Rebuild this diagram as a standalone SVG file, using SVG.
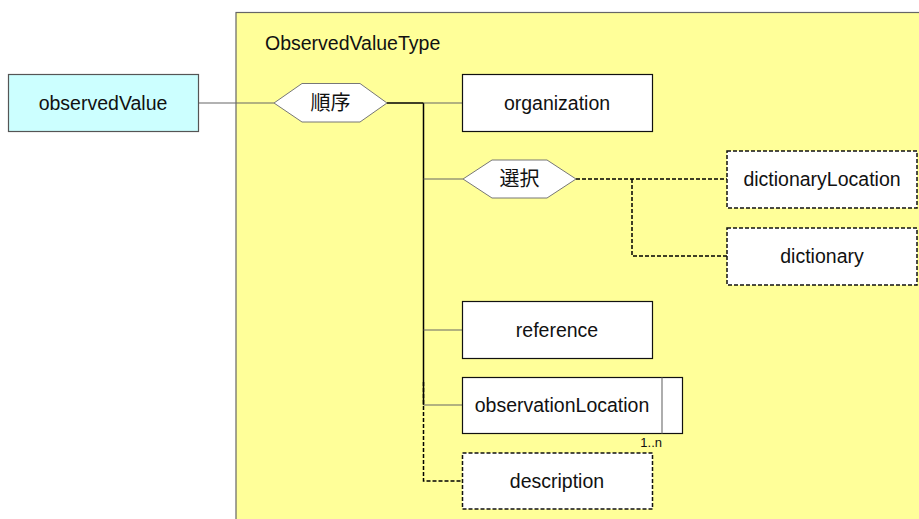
<svg xmlns="http://www.w3.org/2000/svg" width="919" height="519" viewBox="0 0 919 519">
<style>
text{font-family:"Liberation Sans",Arial,sans-serif;font-size:19.5px;fill:#111;text-anchor:middle}
.cjk{font-family:"Noto Sans CJK JP","Noto Sans CJK SC",sans-serif;font-size:20px}
.box{fill:#fff;stroke:#111;stroke-width:1.2}
.opt{fill:#fff;stroke:#111;stroke-width:1.5;stroke-dasharray:4 2}
.hex{fill:#fff;stroke:#777;stroke-width:1}
.ln{stroke:#666;stroke-width:1.2;fill:none}
.bk{stroke:#000;stroke-width:1.5;fill:none}
.dl{stroke:#000;stroke-width:1.5;fill:none;stroke-dasharray:4 2}
</style>
<rect x="0" y="0" width="919" height="519" fill="#fff"/>
<g id="type">
<rect x="236" y="12.5" width="700" height="520" fill="#ffff99" stroke="#666" stroke-width="1.2"/>
<text x="265" y="50" style="text-anchor:start">ObservedValueType</text>
</g>
<g id="connectors">
<line class="ln" x1="198" y1="103" x2="274" y2="103"/>
<line class="bk" x1="387" y1="103" x2="423.5" y2="103"/>
<line class="bk" x1="423.5" y1="103" x2="423.5" y2="405"/>
<line class="ln" x1="423.5" y1="103" x2="462" y2="103"/>
<line class="ln" x1="423.5" y1="179" x2="463" y2="179"/>
<line class="ln" x1="423.5" y1="330" x2="462" y2="330"/>
<line class="ln" x1="423.5" y1="405" x2="462" y2="405"/>
<polyline class="dl" points="423.5,382 423.5,481 462,481"/>
<line class="dl" x1="576" y1="179" x2="727" y2="179"/>
<polyline class="dl" points="632,179 632,256 727,256"/>
</g>
<g id="observedValue">
<rect x="8.5" y="74.5" width="190" height="57" fill="#ccffff" stroke="#555" stroke-width="1.2"/>
<text x="103" y="109.5">observedValue</text>
</g>
<g id="sequence">
<polygon class="hex" points="274,103 302,83.5 360,83.5 387,103 360,122 302,122"/>
<text class="cjk" x="330.5" y="110">順序</text>
</g>
<g id="organization">
<rect class="box" x="462.5" y="74.5" width="190" height="57"/>
<text x="557" y="109.5">organization</text>
</g>
<g id="choice">
<polygon class="hex" points="463,179 492,160 547,160 576,179 547,198 492,198"/>
<text class="cjk" x="519.5" y="186">選択</text>
</g>
<g id="dictionaryLocation">
<rect class="opt" x="727" y="151" width="190" height="57"/>
<text x="822" y="186">dictionaryLocation</text>
</g>
<g id="dictionary">
<rect class="opt" x="727" y="228" width="190" height="57"/>
<text x="822" y="263">dictionary</text>
</g>
<g id="reference">
<rect class="box" x="462.5" y="301.5" width="190" height="57"/>
<text x="557" y="337">reference</text>
</g>
<g id="observationLocation">
<rect class="box" x="462.5" y="377.5" width="220" height="56"/>
<line x1="662" y1="377.5" x2="662" y2="433.5" stroke="#777" stroke-width="1.2"/>
<text x="562" y="412">observationLocation</text>
<text x="662" y="447" style="font-size:13px;text-anchor:end">1..n</text>
</g>
<g id="description">
<rect class="opt" x="462.5" y="453" width="190" height="56"/>
<text x="557" y="488">description</text>
</g>
</svg>
